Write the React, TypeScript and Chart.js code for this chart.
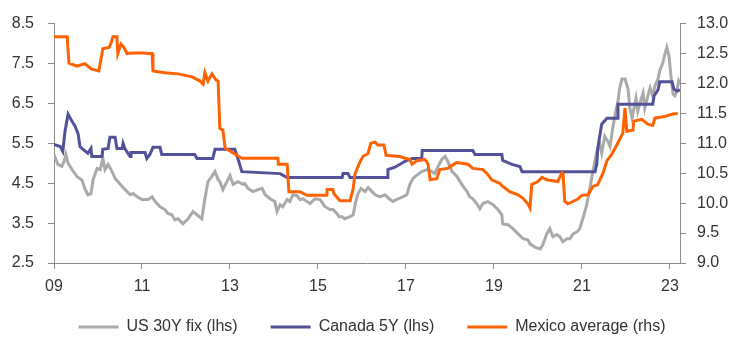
import React, { useEffect, useRef } from "react";
import { Chart, registerables } from "chart.js";

Chart.register(...registerables);

// US 30Y fix (lhs)
const usYears = [
  2009.0, 2009.09, 2009.18, 2009.23, 2009.27, 2009.32, 2009.41, 2009.52, 2009.64, 2009.7,
  2009.77, 2009.84, 2009.89, 2009.98, 2010.05, 2010.11, 2010.16, 2010.23, 2010.32, 2010.39,
  2010.45, 2010.55, 2010.66, 2010.73, 2010.8, 2010.89, 2011.0, 2011.14, 2011.23, 2011.3,
  2011.41, 2011.52, 2011.59, 2011.68, 2011.75, 2011.82, 2011.93, 2012.05, 2012.16, 2012.25,
  2012.36, 2012.43, 2012.5, 2012.59, 2012.66, 2012.73, 2012.77, 2012.84, 2012.93, 2013.0,
  2013.07, 2013.18, 2013.3, 2013.34, 2013.41, 2013.52, 2013.64, 2013.73, 2013.8, 2013.91,
  2014.02, 2014.07, 2014.14, 2014.2, 2014.3, 2014.36, 2014.43, 2014.52, 2014.59, 2014.66,
  2014.75, 2014.82, 2014.93, 2015.05, 2015.16, 2015.27, 2015.34, 2015.43, 2015.48, 2015.55,
  2015.61, 2015.73, 2015.8, 2015.86, 2015.91, 2015.98, 2016.07, 2016.14, 2016.23, 2016.3,
  2016.41, 2016.52, 2016.64, 2016.7, 2016.82, 2016.93, 2017.02, 2017.09, 2017.16, 2017.27,
  2017.36, 2017.48, 2017.59, 2017.66, 2017.73, 2017.82, 2017.89, 2017.95, 2018.05, 2018.16,
  2018.23, 2018.3, 2018.39, 2018.45, 2018.52, 2018.61, 2018.68, 2018.75, 2018.86, 2018.98,
  2019.09, 2019.18, 2019.2, 2019.32, 2019.43, 2019.55, 2019.66, 2019.77, 2019.82, 2019.93,
  2020.05, 2020.11, 2020.2, 2020.27, 2020.34, 2020.43, 2020.5, 2020.57, 2020.66, 2020.73,
  2020.8, 2020.89, 2020.95, 2021.02, 2021.11, 2021.18, 2021.25, 2021.34, 2021.41, 2021.45,
  2021.52, 2021.59, 2021.64, 2021.7, 2021.77, 2021.82, 2021.86, 2021.91, 2021.98, 2022.05,
  2022.09, 2022.14, 2022.18, 2022.23, 2022.27, 2022.32, 2022.39, 2022.43, 2022.5, 2022.55,
  2022.61, 2022.66, 2022.73, 2022.77, 2022.84, 2022.89, 2022.93, 2022.98, 2023.02, 2023.07,
  2023.11, 2023.16, 2023.2, 2023.23,
];
const usValues = [
  5.22, 4.97, 4.92, 5.05, 5.22, 5.0, 4.84, 4.67, 4.57, 4.37,
  4.21, 4.24, 4.59, 4.87, 4.84, 5.12, 4.84, 4.97, 4.79, 4.62,
  4.54, 4.42, 4.29, 4.21, 4.24, 4.16, 4.09, 4.09, 4.16, 4.04,
  3.91, 3.84, 3.74, 3.71, 3.58, 3.61, 3.48, 3.61, 3.79, 3.71,
  3.61, 4.11, 4.54, 4.67, 4.79, 4.59, 4.54, 4.34, 4.54, 4.69,
  4.47, 4.54, 4.47, 4.49, 4.37, 4.29, 4.34, 4.37, 4.21, 4.11,
  4.04, 3.79, 3.96, 3.91, 4.09, 4.04, 4.21, 4.19, 4.09, 4.11,
  4.04, 3.99, 4.11, 4.09, 3.91, 3.84, 3.84, 3.74, 3.66, 3.66,
  3.61, 3.66, 3.71, 4.04, 4.24, 4.37, 4.29, 4.39, 4.29, 4.21,
  4.16, 4.21, 4.09, 4.04, 4.11, 4.16, 4.21, 4.47, 4.62, 4.72,
  4.79, 4.84, 4.79, 4.74, 4.92, 5.1, 5.17, 5.05, 4.79, 4.67,
  4.54, 4.42, 4.29, 4.16, 4.11, 3.99, 3.86, 3.99, 4.04, 3.96,
  3.84, 3.71, 3.48, 3.46, 3.36, 3.23, 3.11, 3.08, 2.98, 2.9,
  2.85, 2.95, 3.23, 3.36, 3.16, 3.21, 3.16, 3.03, 3.11, 3.11,
  3.23, 3.28, 3.36, 3.61, 3.96, 4.37, 4.79, 5.3, 5.47, 5.25,
  5.68, 5.55, 5.42, 5.88, 6.31, 6.56, 6.89, 7.11, 7.11, 6.86,
  6.38, 6.13, 6.36, 6.63, 6.31, 6.51, 6.76, 6.38, 6.69, 6.89,
  6.69, 6.94, 7.11, 7.32, 7.52, 7.74, 7.9, 7.69, 7.24, 6.74,
  6.69, 6.81, 7.06, 6.99,
];

// Canada 5Y (lhs)
const caYears = [
  2009.0, 2009.14, 2009.2, 2009.25, 2009.32, 2009.41, 2009.48, 2009.55, 2009.59, 2009.66,
  2009.77, 2009.84, 2009.86, 2010.09, 2010.11, 2010.23, 2010.27, 2010.39, 2010.43, 2010.55,
  2010.57, 2010.61, 2010.73, 2010.75, 2011.07, 2011.11, 2011.18, 2011.25, 2011.41, 2011.45,
  2012.2, 2012.25, 2012.61, 2012.66, 2013.11, 2013.18, 2013.27, 2014.14, 2014.3, 2015.55,
  2015.57, 2015.68, 2015.73, 2016.57, 2016.59, 2016.75, 2016.98, 2017.14, 2017.36, 2017.37,
  2018.52, 2018.57, 2019.18, 2019.2, 2019.41, 2019.59, 2019.64, 2021.3, 2021.34, 2021.36,
  2021.45, 2021.57, 2021.8, 2021.82, 2022.61, 2022.64, 2022.73, 2022.77, 2023.05, 2023.09,
  2023.16, 2023.23,
];
const caValues = [
  5.47, 5.42, 5.3, 5.8, 6.23, 6.05, 5.93, 5.73, 5.42, 5.35,
  5.25, 5.37, 5.17, 5.17, 5.35, 5.37, 5.65, 5.65, 5.37, 5.37,
  5.5, 5.37, 5.17, 5.27, 5.27, 5.12, 5.22, 5.4, 5.4, 5.22,
  5.22, 5.12, 5.12, 5.35, 5.35, 5.12, 4.79, 4.74, 4.64, 4.64,
  4.74, 4.74, 4.64, 4.64, 4.84, 4.9, 5.05, 5.12, 5.12, 5.32,
  5.32, 5.22, 5.22, 5.07, 4.97, 4.92, 4.79, 4.79, 4.99, 5.37,
  5.98, 6.13, 6.13, 6.48, 6.48, 6.69, 6.84, 7.04, 7.04, 6.86,
  6.81, 6.84,
];

// Mexico average (rhs)
const mxYears = [
  2009.0, 2009.3, 2009.34, 2009.52, 2009.7, 2009.86, 2010.02, 2010.11, 2010.25, 2010.3,
  2010.34, 2010.43, 2010.45, 2010.52, 2010.59, 2010.66, 2010.77, 2011.02, 2011.14, 2011.23,
  2011.25, 2011.52, 2011.82, 2012.14, 2012.32, 2012.39, 2012.43, 2012.5, 2012.59, 2012.68,
  2012.73, 2012.77, 2012.84, 2012.89, 2013.0, 2013.11, 2013.27, 2014.09, 2014.1, 2014.3,
  2014.34, 2014.59, 2014.75, 2015.2, 2015.21, 2015.34, 2015.36, 2015.5, 2015.73, 2015.8,
  2015.84, 2015.93, 2016.02, 2016.14, 2016.2, 2016.3, 2016.36, 2016.5, 2016.55, 2016.86,
  2016.98, 2017.09, 2017.14, 2017.25, 2017.43, 2017.5, 2017.55, 2017.7, 2017.77, 2017.95,
  2018.11, 2018.16, 2018.41, 2018.52, 2018.75, 2018.86, 2018.95, 2019.14, 2019.2, 2019.36,
  2019.55, 2019.66, 2019.77, 2019.82, 2019.86, 2020.0, 2020.09, 2020.2, 2020.45, 2020.55,
  2020.57, 2020.61, 2020.68, 2020.89, 2021.0, 2021.14, 2021.25, 2021.36, 2021.48, 2021.57,
  2021.68, 2021.8, 2021.93, 2021.98, 2022.02, 2022.16, 2022.18, 2022.36, 2022.5, 2022.61,
  2022.66, 2022.89, 2023.07, 2023.18,
];
const mxValues = [
  12.78, 12.78, 12.34, 12.29, 12.33, 12.24, 12.21, 12.58, 12.6, 12.68,
  12.78, 12.78, 12.5, 12.66, 12.6, 12.5, 12.51, 12.51, 12.5, 12.5,
  12.21, 12.18, 12.16, 12.11, 12.04, 11.99, 12.18, 12.04, 12.16, 12.06,
  12.04, 11.25, 11.22, 10.92, 10.87, 10.82, 10.75, 10.75, 10.65, 10.65,
  10.19, 10.19, 10.13, 10.13, 10.23, 10.23, 10.16, 10.04, 10.04, 10.24,
  10.48, 10.65, 10.78, 10.83, 11.0, 11.02, 10.97, 10.97, 10.8, 10.78,
  10.75, 10.73, 10.65, 10.71, 10.73, 10.66, 10.39, 10.41, 10.56, 10.58,
  10.66, 10.68, 10.65, 10.58, 10.56, 10.48, 10.39, 10.33, 10.28, 10.19,
  10.14, 10.08, 9.99, 9.92, 10.31, 10.36, 10.43, 10.39, 10.36, 10.51,
  10.5, 10.03, 9.99, 10.06, 10.13, 10.14, 10.28, 10.31, 10.5, 10.71,
  10.82, 10.98, 11.17, 11.59, 11.2, 11.22, 11.37, 11.4, 11.32, 11.3,
  11.42, 11.45, 11.49, 11.5,
];

const xTicks = [2009, 2011, 2013, 2015, 2017, 2019, 2021, 2023];
const leftTicks = [2.5, 3.5, 4.5, 5.5, 6.5, 7.5, 8.5];
const rightTicks = [9.0, 9.5, 10.0, 10.5, 11.0, 11.5, 12.0, 12.5, 13.0];
const seriesNames = ["US 30Y fix (lhs)", "Canada 5Y (lhs)", "Mexico average (rhs)"];
const seriesColors = ["#AAAAAA", "#525199", "#FF6200"];

const FONT = "'Liberation Sans', Arial, sans-serif";
const TEXT = "#333333";
const AXIS = "#8C8C8C";

function pts(xs: number[], ys: number[]) {
  return xs.map((x, i) => ({ x, y: ys[i] }));
}

const layoutTweaks = {
  id: "layoutTweaks",
  afterLayout(chart: any) {
    const xs = chart.scales.x;
    if (xs) xs.bottom = chart.height;
    const lg = chart.legend;
    if (lg) {
      lg.top += 2;
      lg.bottom += 2;
    }
  },
};

export default function App() {
  const ref = useRef<HTMLCanvasElement | null>(null);

  useEffect(() => {
    if (!ref.current) return;
    const common = {
      pointRadius: 0,
      borderWidth: 3,
      tension: 0,
      fill: false,
    };
    const chart = new Chart(ref.current, {
      type: "line",
      data: {
        datasets: [
          { ...common, label: seriesNames[0], data: pts(usYears, usValues), borderColor: seriesColors[0], backgroundColor: seriesColors[0], yAxisID: "y", order: 3 },
          { ...common, label: seriesNames[1], data: pts(caYears, caValues), borderColor: seriesColors[1], backgroundColor: seriesColors[1], yAxisID: "y", order: 2 },
          { ...common, label: seriesNames[2], data: pts(mxYears, mxValues), borderColor: seriesColors[2], backgroundColor: seriesColors[2], yAxisID: "y1", order: 1 },
        ],
      },
      plugins: [layoutTweaks],
      options: {
        responsive: false,
        animation: false,
        events: [],
        layout: { padding: { left: 0, right: 0, top: 23, bottom: 0 } },
        scales: {
          x: {
            type: "linear",
            min: 2009,
            max: 2023.23,
            afterBuildTicks: (s: any) => {
              s.ticks = xTicks.map((v) => ({ value: v }));
            },
            afterFit: (s: any) => {
              s.height = 21;
            },
            ticks: {
              padding: 8,
              maxRotation: 0,
              autoSkip: false,
              color: TEXT,
              font: { family: FONT, size: 16 },
              callback: (v: any) => String(v).slice(2),
            },
            grid: { drawOnChartArea: false, drawTicks: true, tickLength: 6, color: AXIS },
            border: { display: true, color: AXIS },
          },
          y: {
            position: "left",
            min: 2.5,
            max: 8.5,
            afterBuildTicks: (s: any) => {
              s.ticks = leftTicks.map((v) => ({ value: v }));
            },
            afterFit: (s: any) => {
              s.width = 54;
            },
            ticks: {
              padding: 14,
              color: TEXT,
              font: { family: FONT, size: 16 },
              callback: (v: any) => Number(v).toFixed(1),
            },
            grid: { drawOnChartArea: false, drawTicks: true, tickLength: 6, color: AXIS },
            border: { display: true, color: AXIS },
          },
          y1: {
            position: "right",
            min: 9,
            max: 13,
            afterBuildTicks: (s: any) => {
              s.ticks = rightTicks.map((v) => ({ value: v }));
            },
            afterFit: (s: any) => {
              s.width = 64;
            },
            ticks: {
              padding: 11,
              color: TEXT,
              font: { family: FONT, size: 16 },
              callback: (v: any) => Number(v).toFixed(1),
            },
            grid: { drawOnChartArea: false, drawTicks: true, tickLength: 6, color: AXIS },
            border: { display: true, color: AXIS },
          },
        },
        plugins: {
          tooltip: { enabled: false },
          legend: {
            display: true,
            position: "bottom",
            align: "center",
            labels: {
              boxWidth: 40,
              boxHeight: 3,
              padding: 33,
              color: TEXT,
              font: { family: FONT, size: 16 },
              sort: (a: any, b: any) => a.datasetIndex - b.datasetIndex,
              generateLabels: (c: any) =>
                c.data.datasets.map((ds: any, i: number) => ({
                  text: ds.label,
                  fillStyle: ds.borderColor,
                  strokeStyle: ds.borderColor,
                  lineWidth: 0,
                  hidden: false,
                  datasetIndex: i,
                  fontColor: TEXT,
                })),
            },
          },
        },
      },
    } as any);
    return () => chart.destroy();
  }, []);

  return (
    <div style={{ position: "fixed", left: 0, top: 0, width: 744, height: 343, background: "#ffffff" }}>
      <canvas ref={ref} width={744} height={343} style={{ display: "block", width: 744, height: 343 }} />
    </div>
  );
}
